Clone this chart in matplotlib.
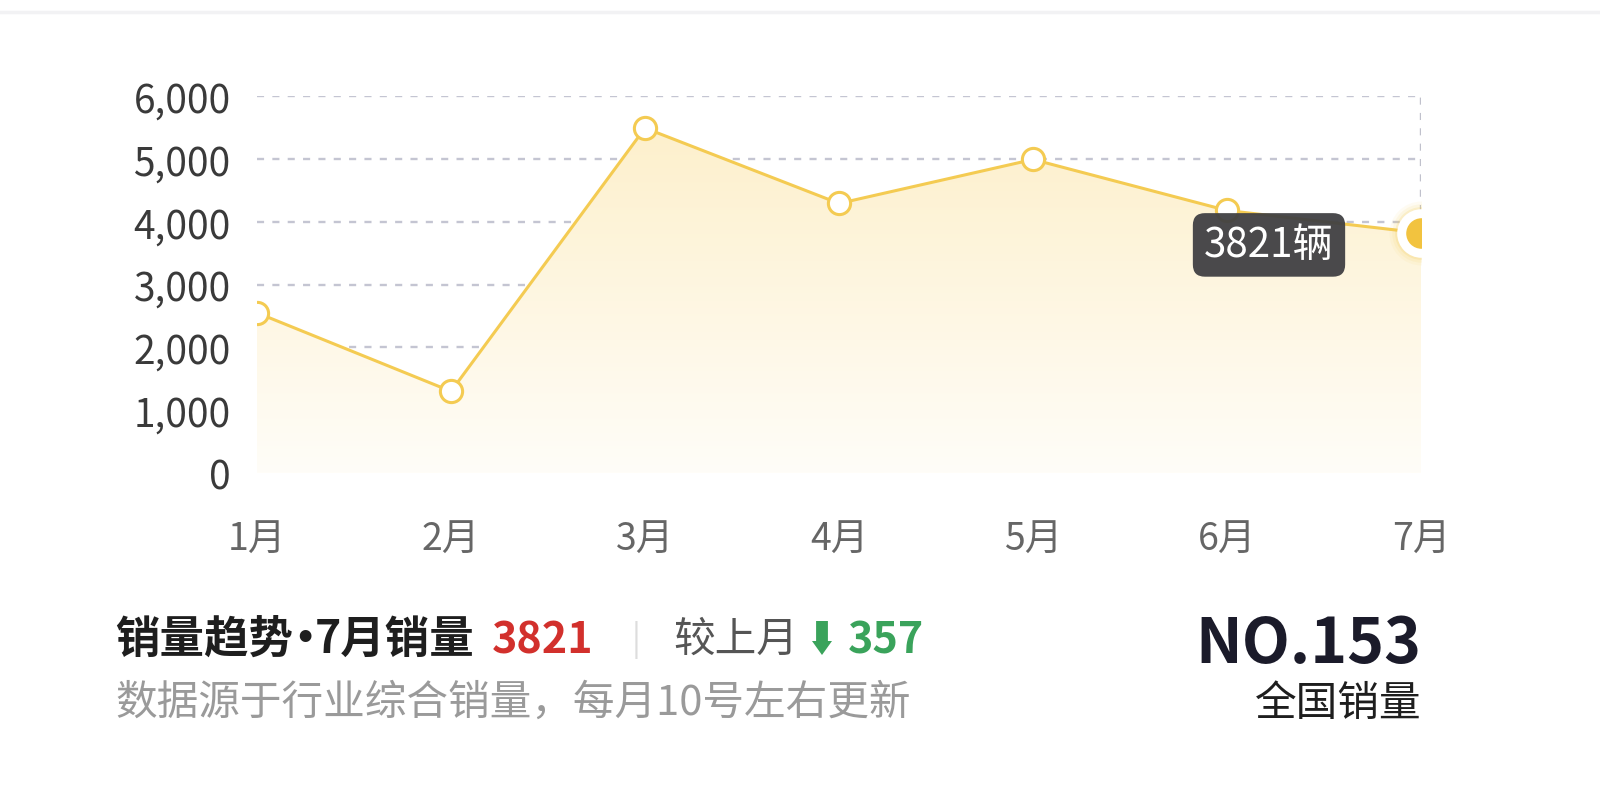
import numpy as np
import matplotlib
matplotlib.use("Agg")
import matplotlib.pyplot as plt
from matplotlib.colors import LinearSegmentedColormap
from matplotlib.patches import FancyArrow
from matplotlib.ticker import FuncFormatter

plt.rcParams['font.family'] = ['Noto Sans CJK SC', 'DejaVu Sans']

# data
months = ['1月', '2月', '3月', '4月', '5月', '6月', '7月']
sales = [2550, 1300, 5490, 4290, 4990, 4178, 3821]
y_ticks = [0, 1000, 2000, 3000, 4000, 5000, 6000]
current_month = '7月'
current_sales = 3821
change = 357
rank = 153

W, H = 1600, 812
fig = plt.figure(figsize=(W / 100, H / 100), dpi=100)
fig.patch.set_facecolor('white')

# top separator line
fig.add_artist(plt.Line2D([0, 1], [1 - 13 / H, 1 - 13 / H], color='#f2f2f4', lw=2.5))

ax = fig.add_axes([257 / W, 1 - 474 / H, (1421 - 257) / W, (474 - 97) / H])
x = np.arange(len(months))
line_color = '#F4CB52'

ax.set_xlim(0, 6)
ax.set_ylim(0, 6000)
for s in ax.spines.values():
    s.set_visible(False)

# grid lines
for t in y_ticks[1:]:
    ax.axhline(t, color='#c4c5d2', lw=1.7, ls=(0, (3, 3.5)), zorder=1)
ax.axhline(0, color='#d8d9e4', lw=1.6, zorder=1)
# axis pointer on last point
ax.axvline(6, color='#c0c1cc', lw=1.7, ls=(0, (3, 3.5)), zorder=1)

# gradient fill under line
poly = ax.fill_between(x, sales, 0, color='none', lw=0)
cmap = LinearSegmentedColormap.from_list('fade', ['#FFFDF8', '#FDF0CC'])
grad = np.linspace(0, 1, 256).reshape(-1, 1)
im = ax.imshow(grad, cmap=cmap, aspect='auto', extent=[0, 6, 0, max(sales)],
               origin='lower', zorder=2)
im.set_clip_path(poly.get_paths()[0], transform=ax.transData)

ax.plot(x, sales, color=line_color, lw=2.2, zorder=3)
ax.plot(x[:-1], sales[:-1], 'o', ms=16, mfc='white', mec=line_color, mew=2.2, zorder=4)

# highlighted last point
for r, a in [(46, 0.07), (42, 0.1), (38, 0.18)]:
    ax.plot(x[-1], sales[-1], 'o', ms=r, mfc=line_color, mec='none', alpha=a, zorder=4)
ax.plot(x[-1], sales[-1], 'o', ms=35, mfc='white', mec='none', zorder=5)
ax.plot(x[-1], sales[-1], 'o', ms=22, mfc='#F2C33F', mec='none', zorder=6)

# tooltip
ax.annotate(f'{current_sales}辆', xy=(x[-1], sales[-1]), xytext=(-152, -12),
            textcoords='offset pixels', ha='center', va='center',
            fontsize=29, color='white', zorder=8,
            bbox=dict(boxstyle='round,pad=0.28,rounding_size=0.3',
                      fc='#404043', ec='none', alpha=0.95))

ax.set_yticks(y_ticks)
ax.yaxis.set_major_formatter(FuncFormatter(lambda v, p: f'{int(v):,}'))
ax.set_xticks(x)
ax.set_xticklabels(months)
ax.tick_params(axis='y', length=0, pad=19, labelsize=28, labelcolor='#3a3a3a')
ax.tick_params(axis='x', length=0, pad=34, labelsize=27, labelcolor='#666666')

# bottom captions
def fy(py):
    return 1 - py / H

fig.text(115 / W, fy(640), '销量趋势', fontsize=32, fontweight='bold',
         color='#1e1e1e', va='center', ha='left')
fig.text(294 / W, fy(640), '•', fontsize=24, fontweight='bold', family='DejaVu Sans',
         color='#1e1e1e', va='center', ha='left')
fig.text(315 / W, fy(640), f'{current_month}销量', fontsize=32, fontweight='bold',
         color='#1e1e1e', va='center', ha='left')
fig.text(492 / W, fy(640), f'{current_sales}', fontsize=31, fontweight='bold',
         color='#d2302c', va='center', ha='left')
fig.text(636 / W, fy(640), '|', fontsize=24, color='#dddddd', va='center', ha='center')
fig.text(673 / W, fy(640), '较上月', fontsize=30, color='#555555', va='center', ha='left')
fig.add_artist(FancyArrow(822 / W, fy(622), 0, -(34 / H), width=6 / H,
                          head_width=20 / W, head_length=14 / H,
                          length_includes_head=True, color='#3aa35b', lw=0,
                          transform=fig.transFigure))
fig.text(848 / W, fy(640), f'{change}', fontsize=31, fontweight='bold',
         color='#3aa35b', va='center', ha='left')
fig.text(115 / W, fy(703), '数据源于行业综合销量，每月10号左右更新', fontsize=30,
         color='#9a9a9a', va='center', ha='left')

fig.text(1421 / W, fy(645), f'NO.{rank}', fontsize=45, fontweight='bold',
         color='#1b1b2a', va='center', ha='right')
fig.text(1421 / W, fy(705), '全国销量', fontsize=30, color='#1e1e1e',
         va='center', ha='right')

fig.savefig('out.png', dpi=100, facecolor='white')
